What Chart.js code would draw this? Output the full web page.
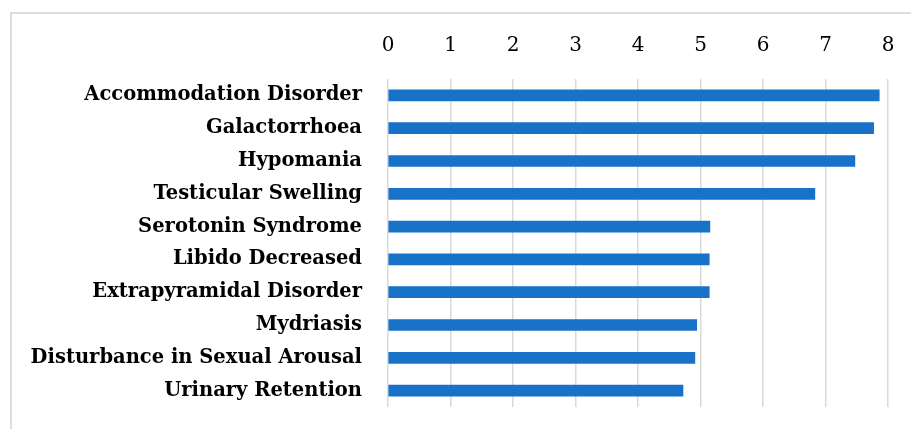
<html>
<head>
<style>
  body { margin: 0; background: #fff; }
  #wrap { width: 911px; height: 429px; }
</style>
</head>
<body>
<script src="https://cdn.jsdelivr.net/npm/chart.js@4/dist/chart.umd.min.js"></script>
<div id="wrap"><canvas id="myChart" width="911" height="429"></canvas></div>
<script>
  // adverse events, top 10
  var labels = ['Accommodation Disorder', 'Galactorrhoea', 'Hypomania', 'Testicular Swelling',
    'Serotonin Syndrome', 'Libido Decreased', 'Extrapyramidal Disorder', 'Mydriasis',
    'Disturbance in Sexual Arousal', 'Urinary Retention'];
  var values = [7.86, 7.77, 7.47, 6.83, 5.15, 5.14, 5.14, 4.94, 4.91, 4.72];
  var xMin = 0, xMax = 8, xStep = 1;

  var serif = "'DejaVu Serif', 'Liberation Serif', serif";

  // light grey frame round the figure
  var framePlugin = {
    id: 'frame',
    beforeDraw: function(chart) {
      var ctx = chart.ctx;
      ctx.save();
      ctx.strokeStyle = '#dedede';
      ctx.lineWidth = 2;
      ctx.strokeRect(11, 13, 1000, 1000);
      ctx.restore();
    }
  };

  var ctx = document.getElementById('myChart').getContext('2d');
  new Chart(ctx, {
    type: 'bar',
    data: {
      labels: labels,
      datasets: [{
        data: values,
        backgroundColor: '#1772c8',
        borderWidth: 0,
        barThickness: 11
      }]
    },
    plugins: [framePlugin],
    options: {
      indexAxis: 'y',
      responsive: false,
      animation: false,
      layout: { padding: { left: 0, right: 23, top: 0, bottom: 22 } },
      plugins: { legend: { display: false }, tooltip: { enabled: false } },
      scales: {
        x: {
          position: 'top',
          min: xMin, max: xMax,
          ticks: { stepSize: xStep, color: '#000', padding: 0, font: { family: serif, size: 20 } },
          // invisible tick marks only push the labels up
          grid: { color: '#d9d9d9', lineWidth: 1.5, drawTicks: true, tickLength: 21, tickColor: 'rgba(0,0,0,0)' },
          border: { display: false },
          afterFit: function(s) { s.height = 79; }
        },
        y: {
          ticks: { color: '#000', padding: 0, font: { family: serif, size: 19.5, weight: 'bold' } },
          grid: { display: false, drawTicks: true, tickLength: 26 },
          border: { display: false },
          afterFit: function(s) { s.width = 388; }
        }
      }
    }
  });
</script>
</body>
</html>
